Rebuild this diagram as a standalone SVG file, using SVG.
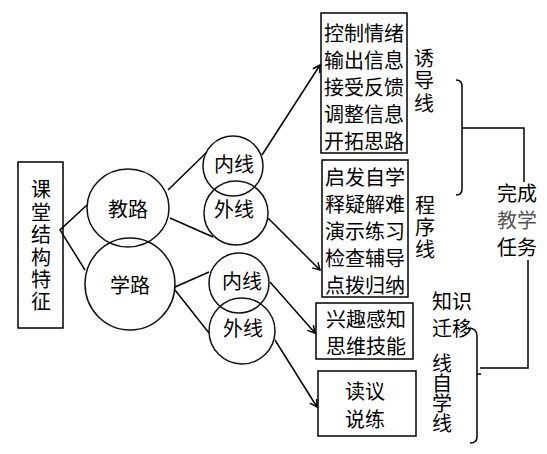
<svg xmlns="http://www.w3.org/2000/svg" width="547" height="454" viewBox="0 0 547 454">
<style>
text{font-family:"Noto Sans CJK SC","Noto Sans",sans-serif;font-size:20px;fill:#000;dominant-baseline:central;text-anchor:middle}
.v{writing-mode:vertical-rl;text-orientation:upright}
.s{fill:none;stroke:#000;stroke-width:1.5}
.c{fill:none;stroke:#111;stroke-width:1.5}
.g{fill:#555}
</style>
<defs>
<marker id="arr" markerWidth="10" markerHeight="10" refX="8" refY="5" orient="auto" markerUnits="userSpaceOnUse">
<path d="M1,1 L8,5 L1,9" fill="none" stroke="#000" stroke-width="1.5"/>
</marker>
</defs>
<rect width="547" height="454" fill="#fff"/>

<g id="root">
<rect class="s" x="18" y="162" width="45" height="166"/>
<text class="v" x="41" y="247" style="letter-spacing:2.4px">课堂结构特征</text>
</g>

<g id="jiaolu">
<ellipse class="c" cx="128" cy="208" rx="41" ry="39"/>
<text x="128" y="208">教路</text>
</g>
<g id="xuelu">
<ellipse class="c" cx="130" cy="284" rx="45" ry="46"/>
<text x="130" y="284">学路</text>
</g>

<g id="neixian1">
<circle class="c" cx="233" cy="166" r="30"/>
<text x="234" y="163">内线</text>
</g>
<g id="waixian1">
<circle class="c" cx="236" cy="213" r="32"/>
<text x="234" y="208">外线</text>
</g>
<g id="neixian2">
<circle class="c" cx="239" cy="283" r="30"/>
<text x="242" y="280">内线</text>
</g>
<g id="waixian2">
<circle class="c" cx="242" cy="331" r="33"/>
<text x="243" y="327">外线</text>
</g>

<g id="box1">
<rect class="s" x="321" y="13" width="86" height="140"/>
<text x="364" y="32">控制情绪</text>
<text x="364" y="59">输出信息</text>
<text x="364" y="86">接受反馈</text>
<text x="364" y="113">调整信息</text>
<text x="364" y="140">开拓思路</text>
</g>
<g id="box2">
<rect class="s" x="322" y="160" width="86" height="137"/>
<text x="365" y="176">启发自学</text>
<text x="365" y="203">释疑解难</text>
<text x="365" y="230">演示练习</text>
<text x="365" y="257">检查辅导</text>
<text x="365" y="284">点拨归纳</text>
</g>
<g id="box3">
<rect class="s" x="316" y="303" width="97" height="56"/>
<text x="366" y="318">兴趣感知</text>
<text x="366" y="345">思维技能</text>
</g>
<g id="box4">
<rect class="s" x="318" y="371" width="98" height="65"/>
<text x="365" y="390">读议</text>
<text x="365" y="418">说练</text>
</g>

<g id="labels">
<text class="v" x="424" y="82" style="letter-spacing:2.5px">诱导线</text>
<text class="v" x="425" y="228" style="letter-spacing:2px">程序线</text>
<text x="517" y="192">完成</text>
<text x="517" y="219" class="g">教学</text>
<text x="517" y="246">任务</text>
<text x="452" y="300">知识</text>
<text x="452" y="327">迁移</text>
<text class="v" x="442" y="393">线自学线</text>
</g>

<g id="connectors">
<path class="s" d="M87,205 L60,230 L85,270"/>
<line class="s" x1="168" y1="190" x2="207" y2="152"/>
<line class="s" x1="170" y1="218" x2="213" y2="237"/>
<line class="s" x1="175" y1="287" x2="209" y2="272"/>
<line class="s" x1="175" y1="290" x2="209" y2="333"/>
<line class="s" x1="262" y1="155" x2="320" y2="65" marker-end="url(#arr)"/>
<line class="s" x1="268" y1="218" x2="320" y2="270" marker-end="url(#arr)"/>
<line class="s" x1="270" y1="282" x2="315" y2="333" marker-end="url(#arr)"/>
<line class="s" x1="275" y1="340" x2="317" y2="407" marker-end="url(#arr)"/>
<path class="s" d="M456,80 Q462,80 462,86 V189 Q462,195 456,195"/>
<path class="s" d="M462,128 H524 V182"/>
<path class="s" d="M528,260 V368 H480"/>
<path class="s" d="M468,328 Q477,328 477,336 V437 Q477,443 470,443"/>
<line class="s" x1="477" y1="374" x2="481" y2="374"/>
</g>
</svg>
